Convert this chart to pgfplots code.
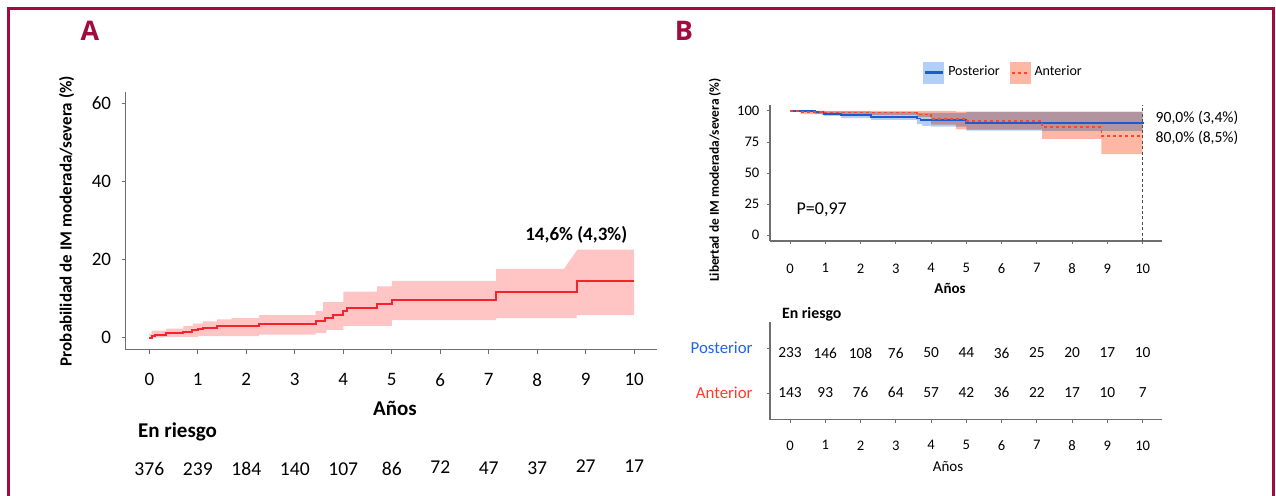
\documentclass[border=0pt]{standalone}
\usepackage{fontspec}
\setmainfont{Carlito}
\newfontfamily\letterfont{Open Sans}
\usepackage{pgfplots}
\pgfplotsset{compat=1.18}
\usepgfplotslibrary{fillbetween}
\definecolor{framec}{RGB}{163,10,61}
\definecolor{aline}{RGB}{245,35,45}
\definecolor{aband}{RGB}{255,196,196}
\definecolor{pline}{RGB}{30,90,205}
\definecolor{pband}{RGB}{178,207,248}
\definecolor{oband}{RGB}{255,183,165}
\definecolor{oline}{RGB}{255,70,35}
\definecolor{plab}{RGB}{30,100,230}
\definecolor{olab}{RGB}{255,60,40}
\definecolor{axc}{RGB}{110,110,110}
\newcommand\fs[1]{\fontsize{#1}{#1}\selectfont}
\begin{document}
\begin{tikzpicture}
\begin{scope}[x=0.5pt,y=-0.5pt]
\draw[framec, line width=1.5pt] (8.5,520) -- (8.5,8.5) -- (1273,8.5) -- (1273,520);
\node[framec, font=\letterfont\bfseries\fs{13.5}] at (90,31) {A};
\node[framec, font=\letterfont\bfseries\fs{13.5}] at (684,31) {B};
% panel A texts
\node[rotate=90, font=\bfseries\fs{8.5}] at (66.5,221) {Probabilidad de IM moderada/severa (\%)};
\node[font=\bfseries\fs{10.5}] at (395,408) {Años};
\node[anchor=west, font=\bfseries\fs{10.5}] at (131,432) {En riesgo};
% panel B texts
\node[rotate=90, font=\bfseries\fs{6.7}] at (715,180) {Libertad de IM moderada/severa (\%)};
\node[font=\bfseries\fs{7.5}] at (950,288) {Años};
\node[anchor=west, font=\bfseries\fs{7.9}] at (775,314) {En riesgo};
\node[font=\fs{7.5}] at (948,467) {Años};
\end{scope}

% ---------------- Panel A ----------------
\begin{axis}[
  at={(62.85pt,-174.75pt)}, anchor=south west, scale only axis,
  width=265.65pt, height=128.9pt,
  xmin=-0.487, xmax=10.47, ymin=-3.02, ymax=62.9,
  axis x line=bottom, axis y line=left,
  axis line style={-, axc, line width=0.7pt},
  xtick={0,...,10}, ytick={0,20,40,60},
  tick align=outside, major tick length=2pt,
  tick style={axc, line width=0.5pt},
  every tick label/.append style={font=\fs{9.5}},
  /pgf/number format/assume math mode=true,
  xticklabel style={yshift=-6.5pt}, yticklabel style={xshift=-1.8pt},
  clip=false,
]
\addplot[name path=au, draw=none, forget plot] coordinates {
 (0,1.0) (0.05,1.0) (0.05,1.8) (0.35,1.8) (0.35,2.3) (0.7,2.3) (0.7,3.0)
 (0.9,3.0) (0.9,3.6) (1.1,3.6) (1.1,4.2) (1.4,4.2) (1.4,4.7) (1.7,4.7)
 (1.7,5.0) (2.26,5.0) (2.26,5.8) (3.43,5.8) (3.43,6.8) (3.58,6.8) (3.58,9.1)
 (4.0,9.1) (4.0,11.8) (4.7,11.8) (4.7,13.1) (5.0,13.1) (5.0,14.5) (7.15,14.5)
 (7.15,17.6) (8.55,17.6) (8.83,22.5) (10,22.5)};
\addplot[name path=al, draw=none, const plot, forget plot] coordinates {
 (0,0) (0.3,0.2) (1.0,0.4) (2.26,0.8) (3.43,1.2) (3.65,2.0) (4.0,3.0)
 (5.0,4.5) (7.15,5.0) (8.81,5.8) (10,5.8)};
\addplot[fill=aband, draw=none, forget plot] fill between[of=au and al];
\addplot[aline, line width=1pt, const plot] coordinates {
 (0,0) (0.05,0.5) (0.12,0.8) (0.35,1.1) (0.7,1.5) (0.87,1.9) (1.0,2.2)
 (1.1,2.5) (1.4,2.9) (2.26,3.4) (3.43,4.2) (3.62,5.0) (3.78,5.9) (4.0,6.8)
 (4.08,7.7) (4.7,8.6) (5.0,9.6) (7.15,11.6) (8.81,14.6) (10,14.6)};
\node[anchor=east, font=\bfseries\fs{9.5}] at (axis cs:10,26.25) {14,6\% (4,3\%)};
\addplot[only marks, mark=none, nodes near coords, point meta=explicit symbolic,
  nodes near coords style={anchor=center, font=\fs{9.8}, text=black}]
  table[meta=n] {
x y n
0 -33.6 376
1 -33.6 239
2 -33.6 184
3 -33.6 140
4 -33.6 107
5 -33.6 86
6 -33.0 72
7 -33.3 47
8 -33.3 37
9 -32.8 27
10 -32.8 17
};
\end{axis}

% ---------------- Panel B ----------------
\begin{axis}[
  at={(385pt,-120.5pt)}, anchor=south west, scale only axis,
  width=195.85pt, height=68pt,
  xmin=-0.567, xmax=10.54, ymin=-4.59, ymax=104.8,
  axis x line=bottom, axis y line=left,
  axis line style={-, axc, line width=0.7pt},
  xtick={0,...,10}, ytick={0,25,50,75,100},
  tick align=outside, major tick length=1.5pt,
  tick style={axc, line width=0.5pt},
  every tick label/.append style={font=\fs{7.3}},
  /pgf/number format/assume math mode=true,
  xticklabel style={yshift=-6.25pt}, yticklabel style={xshift=-0.3pt},
  clip=false,
  legend style={at={(axis description cs:0.599,1.239)}, anchor=center,
    draw=none, fill=none, font=\fs{7}, legend columns=2,
    /tikz/every even column/.append style={column sep=3pt}},
  legend cell align=left,
]
\addlegendimage{legend image code/.code={\fill[pband] (0pt,-5.25pt) rectangle (10pt,5.25pt); \draw[pline, line width=1.1pt] (0.6pt,0pt) -- (9.4pt,0pt);}}
\addlegendentry{Posterior}
\addlegendimage{legend image code/.code={\fill[oband] (0pt,-5.25pt) rectangle (10pt,5.25pt); \draw[oline, line width=1pt, dash pattern=on 1.5pt off 1.5pt] (1pt,0pt) -- (9pt,0pt);}}
\addlegendentry{Anterior}
% posterior band
\addplot[name path=pu, draw=none, const plot, forget plot] coordinates {
 (0,100) (1.0,99.6) (2.3,99.0) (3.6,98.5) (5.0,99.2) (10,99.2)};
\addplot[name path=pl, draw=none, const plot, forget plot] coordinates {
 (0,100) (0.3,99) (0.7,97.5) (0.95,96) (1.45,94.2) (2.3,92.8) (3.6,89.5)
 (3.75,88) (4.0,87.5) (5.0,84.2) (7.15,84.0) (10,84.5)};
\addplot[fill=pband, draw=none, forget plot, blend mode=multiply] fill between[of=pu and pl];
% anterior band
\addplot[name path=ou, draw=none, const plot, forget plot] coordinates {
 (0,100) (4.7,99.5) (10,99.5)};
\addplot[name path=ol, draw=none, const plot, forget plot] coordinates {
 (0,100) (0.3,97.5) (0.9,97) (2.3,96.8) (3.6,95) (4.0,89) (4.7,85.2)
 (5.0,85.0) (7.15,77.6) (8.83,65.2) (10,65.2)};
\addplot[fill=oband, draw=none, forget plot, blend mode=multiply] fill between[of=ou and ol];
% lines
\addplot[pline, line width=0.85pt, const plot, forget plot] coordinates {
 (0,100) (0.7,99.2) (0.95,97.8) (1.45,96.6) (2.3,95.3) (3.6,94.0) (3.7,92.8)
 (4.0,92.5) (5.0,90.2) (10,90.0)};
\addplot[oline, line width=0.85pt, const plot, dash pattern=on 1.5pt off 1.5pt, forget plot] coordinates {
 (0,100) (0.3,99.2) (0.9,98.7) (3.6,97.2) (4.0,93.6) (5.0,92.0) (7.15,87.3)
 (8.83,80.0) (10,80.0)};
\addplot[black!70, line width=0.5pt, dash pattern=on 1.5pt off 1.2pt, forget plot] coordinates {(10,-4.59) (10,104.8)};
\node[font=\fs{9}] at (axis cs:0.9,20.4) {P=0,97};
\node[anchor=west, font=\fs{7.8}] at (axis cs:10.17,94.4) {90,0\% (3,4\%)};
\node[anchor=west, font=\fs{7.8}] at (axis cs:10.17,78.5) {80,0\% (8,5\%)};
\end{axis}

% ---------------- Risk table B ----------------
\begin{axis}[
  at={(385pt,-209.75pt)}, anchor=south west, scale only axis,
  width=195.85pt, height=48.75pt,
  xmin=-0.567, xmax=10.54, ymin=0.411, ymax=2.578,
  axis x line=bottom, axis y line=left,
  axis line style={-, axc, line width=0.7pt},
  xtick={0,...,10}, ytick={1,2},
  yticklabels={{\textcolor{olab}{Anterior}},{\textcolor{plab}{Posterior}}},
  tick align=outside, major tick length=1.5pt,
  tick style={axc, line width=0.5pt},
  xticklabel style={font=\fs{7.3}, yshift=-5.5pt},
  yticklabel style={font=\fs{8.4}, xshift=-3.7pt},
  /pgf/number format/assume math mode=true,
  clip=false,
]
\addplot[only marks, mark=none, nodes near coords, point meta=explicit symbolic,
  nodes near coords style={anchor=center, font=\fs{7.7}, text=black}]
  table[meta=n] {
x y n
0 1.89 233
1 1.89 146
2 1.89 108
3 1.89 76
4 1.89 50
5 1.89 44
6 1.89 36
7 1.89 25
8 1.89 20
9 1.89 17
10 1.89 10
0 1.02 143
1 1.02 93
2 1.02 76
3 1.02 64
4 1.02 57
5 1.02 42
6 1.02 36
7 1.02 22
8 1.02 17
9 1.02 10
10 1.02 7
};
\end{axis}
\pgfresetboundingbox
\useasboundingbox (0,0) rectangle (638pt,-247.5pt);
\end{tikzpicture}
\end{document}
